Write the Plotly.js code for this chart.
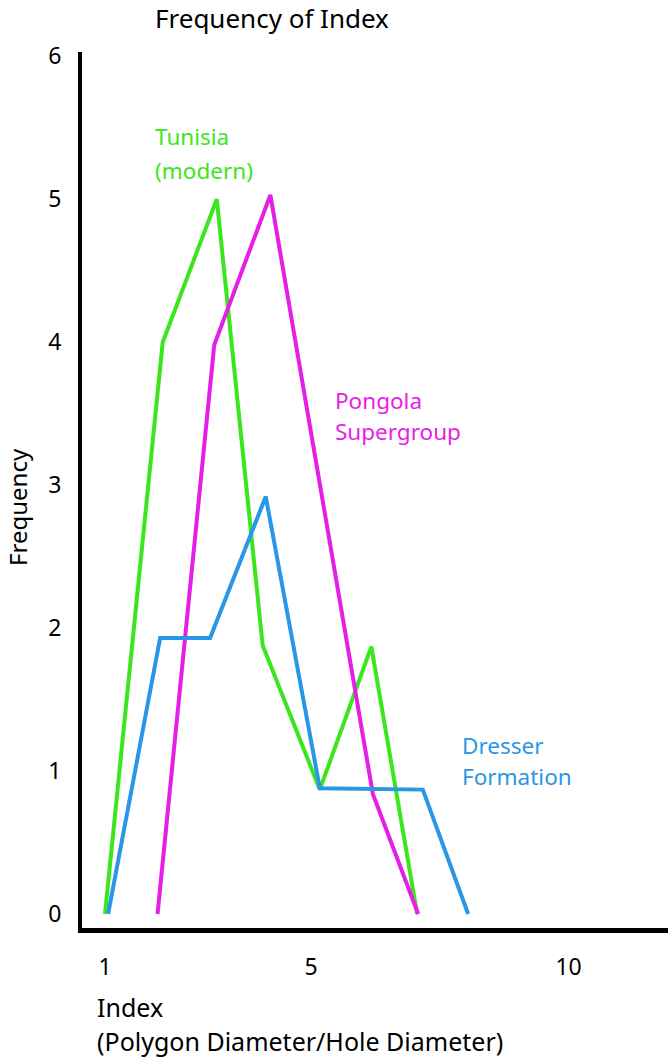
<!DOCTYPE html>
<html>
<head>
<meta charset="utf-8">
<script src="https://cdn.plot.ly/plotly-3.0.1.min.js"></script>
<style>html,body{margin:0;padding:0;background:#fff;}#chart{width:672px;height:1060px;}</style>
</head>
<body>
<div id="chart"></div>
<script>
// Data
var tunisiaX = [1.0, 2.12, 3.17, 4.06, 5.17, 6.17, 7.06];
var tunisiaY = [0, 4.0, 5.0, 1.88, 0.87, 1.87, 0];
var pongolaX = [2.02, 3.12, 4.21, 6.20, 7.08];
var pongolaY = [0, 3.98, 5.03, 0.84, 0];
var dresserX = [1.06, 2.07, 3.04, 4.12, 5.17, 7.17, 8.05];
var dresserY = [0, 1.93, 1.93, 2.92, 0.88, 0.87, 0];
var xTicks = [1, 5, 10];
var yTicks = [0, 1, 2, 3, 4, 5, 6];

var FONT = '"Noto Sans", "Open Sans", sans-serif';
var GREEN = '#3ce61e', MAGENTA = '#e61ee6', BLUE = '#2a96e6';

var L = 82, T = 52, W = 586, H = 876;
function px(x){ return (x - L) / W; }
function py(y){ return (T + H - y) / H; }

var traces = [
  {x: tunisiaX, y: tunisiaY, mode: 'lines', line: {color: GREEN, width: 4}, name: 'Tunisia (modern)'},
  {x: pongolaX, y: pongolaY, mode: 'lines', line: {color: MAGENTA, width: 4}, name: 'Pongola Supergroup'},
  {x: dresserX, y: dresserY, mode: 'lines', line: {color: BLUE, width: 4}, name: 'Dresser Formation'}
];

function lab(text, x, y, color, size, extra){
  var a = {text: text, xref: 'paper', yref: 'paper', x: px(x), y: py(y), xanchor: 'left', yanchor: 'middle',
           showarrow: false, font: {family: FONT, size: size, color: color}};
  if (extra) for (var k in extra) a[k] = extra[k];
  return a;
}

var layout = {
  width: 672, height: 1060,
  margin: {l: L, r: 672 - L - W, t: T, b: 1060 - T - H},
  paper_bgcolor: '#fff', plot_bgcolor: '#fff',
  showlegend: false,
  font: {family: FONT, size: 23, color: '#000'},
  title: {text: 'Frequency of Index', font: {family: FONT, size: 26, color: '#000'},
          xref: 'container', yref: 'container', x: 155/672, xanchor: 'left', y: 1 - 19/1060, yanchor: 'middle'},
  xaxis: {range: [0.553, 11.93], showgrid: false, zeroline: false, showline: true, linewidth: 5, linecolor: '#000',
          tickvals: xTicks, ticktext: xTicks.map(String), ticks: '', ticklabelstandoff: 14,
          tickfont: {family: FONT, size: 23, color: '#000'}, fixedrange: true},
  yaxis: {range: [-0.098, 6.03], showgrid: false, zeroline: false, showline: true, linewidth: 4, linecolor: '#000',
          tickvals: yTicks, ticktext: yTicks.map(String), ticks: '', ticklabelstandoff: 12,
          tickfont: {family: FONT, size: 23, color: '#000'}, fixedrange: true},
  annotations: [
    lab('Tunisia', 153, 136, GREEN, 22.5),
    lab('(modern)', 153, 170, GREEN, 22.5),
    lab('Pongola', 333, 400, MAGENTA, 22.5),
    lab('Supergroup', 333, 431, MAGENTA, 22.5),
    lab('Dresser', 460, 745, BLUE, 22.5),
    lab('Formation', 460, 776, BLUE, 22.5),
    lab('Index', 95, 1007, '#000', 25),
    lab('(Polygon Diameter/Hole Diameter)', 95, 1041, '#000', 25),
    {text: 'Frequency', xref: 'paper', yref: 'paper', x: px(17), y: py(507), xanchor: 'center', yanchor: 'middle',
     textangle: -90, showarrow: false, font: {family: FONT, size: 24, color: '#000'}}
  ]
};

Plotly.newPlot('chart', traces, layout, {displayModeBar: false, staticPlot: true});
</script>
</body>
</html>
